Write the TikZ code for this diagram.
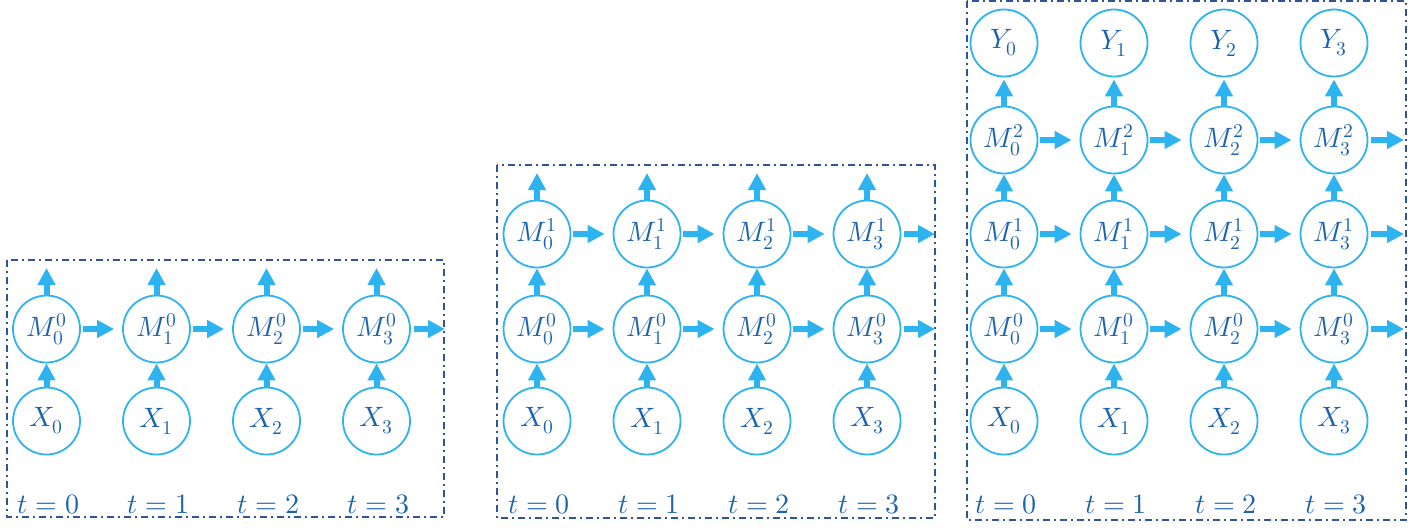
\documentclass[tikz,border=0pt]{standalone}
\usepackage{fontspec}
\usepackage{unicode-math}
\usetikzlibrary{arrows.meta}
\definecolor{cblue}{HTML}{2DB3F0}
\definecolor{tblue}{HTML}{1B62B0}
\definecolor{bblue}{HTML}{2F5597}
\tikzset{
  unit/.style={circle, draw=cblue, line width=0.9pt, minimum size=33.5pt, inner sep=0pt,
    text=tblue, font=\fontsize{14}{16}\selectfont},
  flow/.style={draw=cblue, fill=cblue, line width=3pt,
    -{Triangle[length=8.5pt,width=8.5pt]}},
  frame/.style={draw=bblue, line width=1pt, dash pattern=on 3.5pt off 2pt on 1pt off 2pt},
  tlabel/.style={text=tblue, font=\fontsize{14}{16}\selectfont, anchor=base, inner sep=0pt}
}
\begin{document}
\begin{tikzpicture}[x=0.5pt,y=-0.5pt]
\useasboundingbox (0,0) rectangle (1422,527);
% frames
\draw[frame] (7,260) rectangle (444,517);
\draw[frame] (497,165) rectangle (935,518);
\draw[frame] (967,1) rectangle (1406,520);

% ---------- panel 1 ----------
\foreach \i in {0,...,3} {
  \node[unit] (a-x\i) at (46.5+110*\i, 421) {$X_{\i}$};
  \node[unit] (a-m0\i) at (46.5+110*\i, 329) {$M^{0}_{\i}$};
  \coordinate (a-up\i) at (46.5+110*\i, 268);
  \draw[flow] (a-x\i) -- (a-m0\i);
  \draw[flow] (a-m0\i) -- (a-up\i);
  \node[tlabel] (a-t\i) at (48.5+110*\i, 513) {$t=\i$};
}
\foreach \i/\j in {0/1,1/2,2/3}
  \draw[flow, shorten <=1pt, shorten >=4pt] (a-m0\i) -- (a-m0\j);
\coordinate (a-out) at (445,329);
\draw[flow, shorten <=1.5pt] (a-m03) -- (a-out);

% ---------- panel 2 ----------
\foreach \i in {0,...,3} {
  \node[unit] (b-x\i) at (537+110*\i, 421) {$X_{\i}$};
  \node[unit] (b-m0\i) at (537+110*\i, 329) {$M^{0}_{\i}$};
  \node[unit] (b-m1\i) at (537+110*\i, 234) {$M^{1}_{\i}$};
  \coordinate (b-up\i) at (537+110*\i, 173);
  \draw[flow] (b-x\i) -- (b-m0\i);
  \draw[flow] (b-m0\i) -- (b-m1\i);
  \draw[flow] (b-m1\i) -- (b-up\i);
  \node[tlabel] (b-t\i) at (539+110*\i, 513) {$t=\i$};
}
\foreach \i/\j in {0/1,1/2,2/3} {
  \draw[flow, shorten <=1pt, shorten >=4pt] (b-m0\i) -- (b-m0\j);
  \draw[flow, shorten <=1pt, shorten >=4pt] (b-m1\i) -- (b-m1\j);
}
\coordinate (b-out0) at (935,329);
\coordinate (b-out1) at (935,234);
\draw[flow, shorten <=1.5pt] (b-m03) -- (b-out0);
\draw[flow, shorten <=1.5pt] (b-m13) -- (b-out1);

% ---------- panel 3 ----------
\foreach \i in {0,...,3} {
  \node[unit] (c-x\i) at (1004+110*\i, 421) {$X_{\i}$};
  \node[unit] (c-m0\i) at (1004+110*\i, 329) {$M^{0}_{\i}$};
  \node[unit] (c-m1\i) at (1004+110*\i, 234) {$M^{1}_{\i}$};
  \node[unit] (c-m2\i) at (1004+110*\i, 140) {$M^{2}_{\i}$};
  \node[unit] (c-y\i) at (1004+110*\i, 43) {$Y_{\i}$};
  \draw[flow] (c-x\i) -- (c-m0\i);
  \draw[flow] (c-m0\i) -- (c-m1\i);
  \draw[flow] (c-m1\i) -- (c-m2\i);
  \draw[flow, shorten >=1pt] (c-m2\i) -- (c-y\i);
  \node[tlabel] (c-t\i) at (1006+110*\i, 513) {$t=\i$};
}
\foreach \i/\j in {0/1,1/2,2/3} {
  \draw[flow, shorten <=1pt, shorten >=4pt] (c-m0\i) -- (c-m0\j);
  \draw[flow, shorten <=1pt, shorten >=4pt] (c-m1\i) -- (c-m1\j);
  \draw[flow, shorten <=1pt, shorten >=4pt] (c-m2\i) -- (c-m2\j);
}
\coordinate (c-out0) at (1404,329);
\coordinate (c-out1) at (1404,234);
\coordinate (c-out2) at (1404,140);
\draw[flow, shorten <=1.5pt] (c-m03) -- (c-out0);
\draw[flow, shorten <=1.5pt] (c-m13) -- (c-out1);
\draw[flow, shorten <=1.5pt] (c-m23) -- (c-out2);
\end{tikzpicture}
\end{document}
